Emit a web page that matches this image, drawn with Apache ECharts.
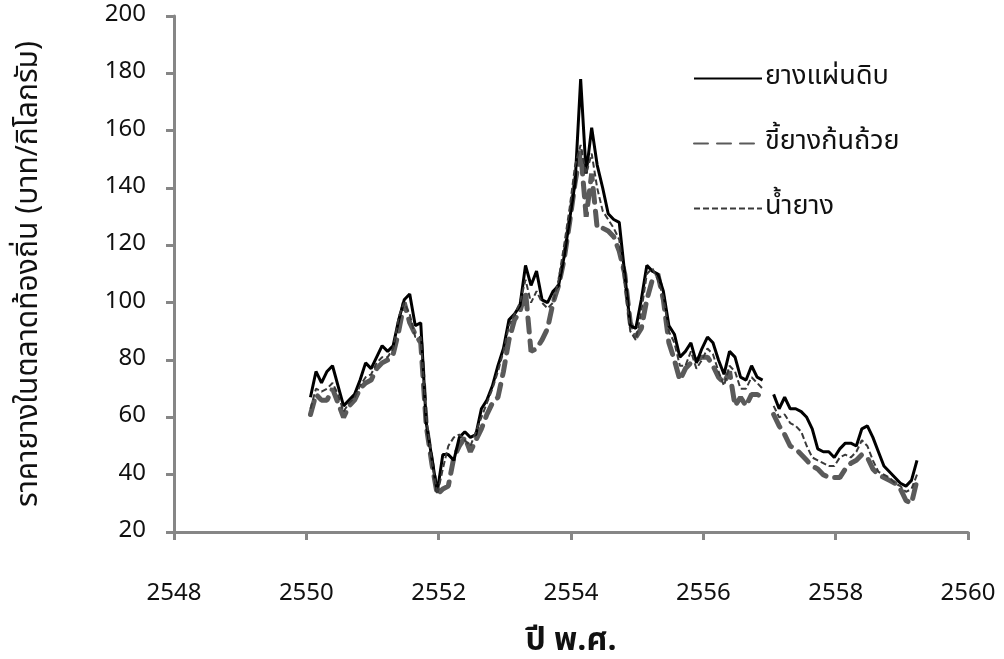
<!DOCTYPE html>
<html>
<head>
<meta charset="utf-8">
<script src="https://cdn.jsdelivr.net/npm/echarts@6/dist/echarts.min.js"></script>
<style>
  html, body { margin: 0; padding: 0; background: #fff; }
  #chart { width: 1004px; height: 659px; }
</style>
</head>
<body>
<div id="chart"></div>
<script>
// monthly prices, Jan 2550 .. Mar 2559 (baht/kg), null = no data
const startYear = 2550
const monthOffset = 0.75

const sheetRubber = [
  67, 76, 72, 76, 78, 71, 64, 66, 68, 73, 79, 77,
  81, 85, 83, 85, 94, 101, 103, 92, 93, 58, 46, 34,
  47, 47, 45, 53, 55, 53, 54, 63, 66, 71, 78, 84,
  94, 96, 99, 113, 106, 111, 101, 100, 104, 106, 116, 129,
  142, 178, 145, 161, 148, 140, 131, 129, 128, 110, 92, 91,
  101, 113, 111, 110, 104, 92, 89, 81, 83, 86, 79, 84,
  88, 86, 80, 75, 83, 81, 74, 73, 78, 74, 73, null,
  68, 63, 67, 63, 63, 62, 60, 56, 49, 48, 48, 46,
  49, 51, 51, 50, 56, 57, 53, 48, 43, 41, 39, 37,
  36, 38, 45
]

const cupLump = [
  61, 68, 66, 66, 70, 65, 60, 64, 66, 70, 72, 73,
  77, 79, 80, 82, 90, 100, 93, 89, 86, 57, 44, 33,
  35, 36, 46, 50, 53, 48, 52, 56, 61, 65, 67, 76,
  87, 94, 97, 104, 83, 84, 87, 91, 100, 106, 115, 128,
  142, 153, 130, 145, 126, 126, 125, 123, 118, 110, 93, 88,
  91, 101, 108, 110, 101, 86, 80, 73, 77, 79, 80, 81,
  81, 78, 74, 72, 76, 64, 67, 64, 68, 68, 67, null,
  61, 57, 54, 50, 49, 47, 45, 43, 42, 40, 39, 39,
  39, 42, 44, 45, 47, 46, 42, 40, 39, 38, 37, 35,
  31, 30, 38
]

const latex = [
  63, 70, 69, 70, 72, 68, 62, 65, 67, 71, 74, 75,
  79, 81, 81, 84, 95, 100, 96, 88, 88, 60, 45, 33,
  42, 50, 53, 54, 52, 50, 55, 60, 65, 70, 76, 83,
  92, 96, 100, 108, 100, 104, 100, 98, 100, 108, 120, 133,
  148, 155, 145, 152, 140, 132, 129, 126, 122, 106, 90, 87,
  97, 110, 112, 108, 102, 90, 86, 78, 78, 83, 77, 80,
  84, 82, 76, 71, 78, 76, 70, 70, 74, 72, 70, null,
  64, 60, 61, 58, 57, 55, 50, 46, 45, 44, 43, 43,
  46, 47, 46, 48, 52, 50, 45, 41, 40, 39, 37, 36,
  34, 35, 40
]

const seriesNames = ['ยางแผ่นดิบ', 'ขี้ยางก้นถ้วย', 'น้ำยาง']

const fontFamily = "'Noto Sans Thai', 'Noto Sans', Tahoma, sans-serif"

const toPoints = (values) =>
  values.map((v, i) => [startYear + (i + monthOffset) / 12, v === null ? '-' : v])

const chart = echarts.init(document.getElementById('chart'))

const axisLineStyle = { color: '#868686', width: 3 }

const option = {
  animation: false,
  backgroundColor: '#fff',
  textStyle: { fontFamily: fontFamily },
  grid: { left: 174, right: 36, top: 16, bottom: 127, outerBoundsMode: 'none', containLabel: false },
  legend: {
    orient: 'vertical',
    left: 688,
    top: 60,
    itemWidth: 68,
    itemHeight: 14,
    itemGap: 38,
    itemStyle: { opacity: 0 },
    textStyle: { fontSize: 27, color: '#111', fontFamily: fontFamily, padding: [0, 0, 0, -2] },
    data: seriesNames
  },
  xAxis: {
    type: 'value',
    min: 2548,
    max: 2560,
    interval: 2,
    name: 'ปี พ.ศ.',
    nameLocation: 'middle',
    nameGap: 96,
    nameTextStyle: { fontSize: 32, fontWeight: 'bold', color: '#111', fontFamily: fontFamily },
    axisLine: { lineStyle: axisLineStyle },
    axisTick: { show: true, length: 8, lineStyle: { color: '#868686', width: 3 } },
    axisLabel: {
      margin: 51,
      fontSize: 24,
      color: '#111',
      fontFamily: fontFamily,
      formatter: (v) => String(v)
    },
    splitLine: { show: false }
  },
  yAxis: {
    type: 'value',
    min: 20,
    max: 200,
    interval: 20,
    name: 'ราคายางในตลาดท้องถิ่น (บาท/กิโลกรัม)',
    nameLocation: 'middle',
    nameGap: 128,
    nameRotate: 90,
    nameTextStyle: { fontSize: 30, color: '#111', fontFamily: fontFamily },
    axisLine: { show: true, lineStyle: axisLineStyle },
    axisTick: { show: true, length: 8, lineStyle: { color: '#868686', width: 3 } },
    axisLabel: { margin: 28, fontSize: 24, color: '#111', fontFamily: fontFamily },
    splitLine: { show: false }
  },
  series: [
    {
      name: seriesNames[0],
      type: 'line',
      data: toPoints(sheetRubber),
      showSymbol: false,
      symbol: 'none',
      connectNulls: false,
      lineStyle: { color: '#000', width: 3 },
      itemStyle: { color: '#000' },
      z: 3
    },
    {
      name: seriesNames[1],
      type: 'line',
      data: toPoints(cupLump),
      showSymbol: false,
      symbol: 'none',
      connectNulls: false,
      lineStyle: { color: '#5a5a5a', width: 5, type: [14, 9], cap: 'round' },
      itemStyle: { color: '#5a5a5a' },
      z: 2
    },
    {
      name: seriesNames[2],
      type: 'line',
      data: toPoints(latex),
      showSymbol: false,
      symbol: 'none',
      connectNulls: false,
      lineStyle: { color: '#3a3a3a', width: 2, type: [6, 3] },
      itemStyle: { color: '#3a3a3a' },
      z: 4
    }
  ]
}

chart.setOption(option)
window.addEventListener('resize', () => chart.resize())
</script>
</body>
</html>
